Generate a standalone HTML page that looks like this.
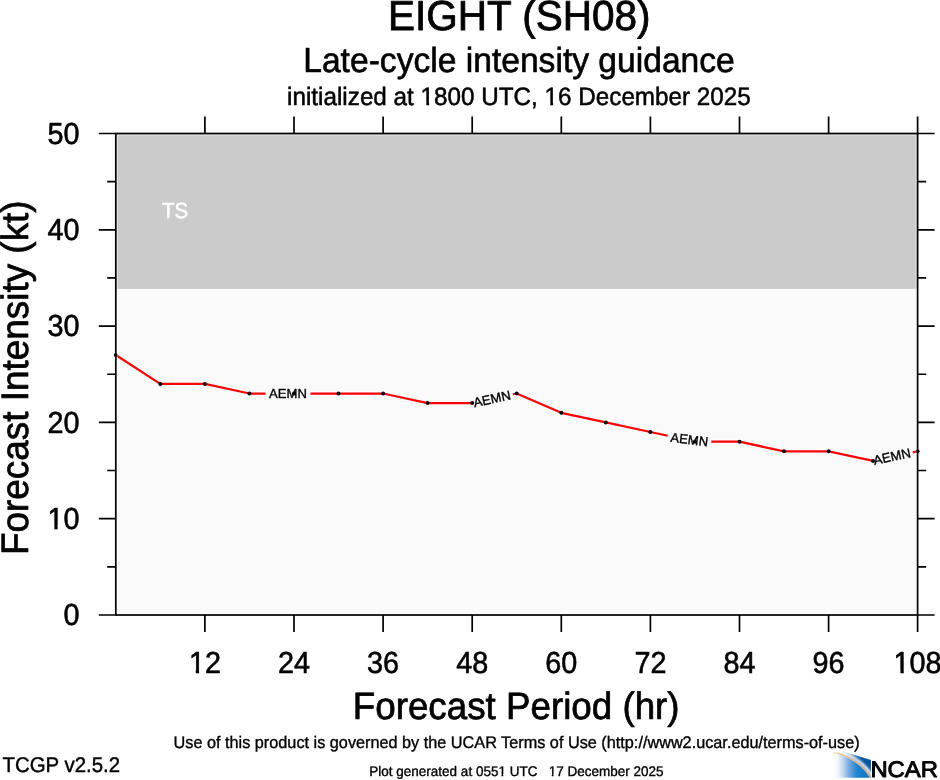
<!DOCTYPE html>
<html lang="en"><head><meta charset="utf-8"><title>EIGHT (SH08) Late-cycle intensity guidance</title>
<style>html,body{margin:0;padding:0;background:#fff;}body{width:940px;height:780px;overflow:hidden;}svg{display:block;}text{font-family:"Liberation Sans", Arial, Helvetica, sans-serif;fill:#000;stroke:#000;stroke-linejoin:round;text-rendering:geometricPrecision;}</style></head><body>
<svg width="940" height="780" viewBox="0 0 940 780">
<defs>
<linearGradient id="lg" gradientUnits="userSpaceOnUse" x1="833" y1="0" x2="870.5" y2="0"><stop offset="0" stop-color="#ffffff"/><stop offset="0.12" stop-color="#f2f7fc"/><stop offset="0.3" stop-color="#b4cfee"/><stop offset="0.45" stop-color="#6ba6df"/><stop offset="0.65" stop-color="#1c82d2"/><stop offset="1" stop-color="#0a73c2"/></linearGradient>
<linearGradient id="dg" gradientUnits="userSpaceOnUse" x1="838" y1="0" x2="871" y2="0"><stop offset="0" stop-color="#ffffff"/><stop offset="0.25" stop-color="#c9d9ec"/><stop offset="0.55" stop-color="#2f70b2"/><stop offset="0.8" stop-color="#00559f"/><stop offset="1" stop-color="#00529b"/></linearGradient>
<linearGradient id="og" gradientUnits="userSpaceOnUse" x1="832.8" y1="0" x2="870.3" y2="0"><stop offset="0" stop-color="#ffe3c4"/><stop offset="0.2" stop-color="#ffbf80"/><stop offset="1" stop-color="#ffb066"/></linearGradient>
<linearGradient id="wg" gradientUnits="userSpaceOnUse" x1="832.8" y1="0" x2="870.3" y2="0"><stop offset="0" stop-color="#ffffff" stop-opacity="0.6"/><stop offset="1" stop-color="#ffffff" stop-opacity="0.95"/></linearGradient>
<filter id="bl" x="-20%" y="-20%" width="140%" height="140%"><feGaussianBlur stdDeviation="0.95"/></filter>
</defs>
<rect width="940" height="780" fill="#ffffff"/>
<rect x="115.8" y="288.9" width="801.8" height="326.1" fill="#fafafa"/>
<rect x="115.8" y="133.5" width="801.8" height="155.4" fill="#cbcbcb"/>
<text transform="translate(175.15 218.4) scale(0.94 1)" font-size="21.8" text-anchor="middle" style="fill:#fff;stroke:#fff" stroke-width="0.5">TS</text>
<path d="M115.8 355.0 L160.3 383.9 L204.9 383.9 L249.4 393.5 L294.0 393.5 L338.5 393.5 L383.1 393.5 L427.6 403.1 L472.2 403.1 L516.7 393.5 L561.3 412.8 L605.8 422.4 L650.4 432.0 L694.9 441.7 L739.5 441.7 L784.0 451.3 L828.6 451.3 L873.1 460.9 L917.6 451.3" fill="none" stroke="#ffffff" stroke-opacity="0.85" stroke-width="5" stroke-linejoin="round"/>
<path d="M115.8 355.0 L160.3 383.9 L204.9 383.9 L249.4 393.5 L294.0 393.5 L338.5 393.5 L383.1 393.5 L427.6 403.1 L472.2 403.1 L516.7 393.5 L561.3 412.8 L605.8 422.4 L650.4 432.0 L694.9 441.7 L739.5 441.7 L784.0 451.3 L828.6 451.3 L873.1 460.9 L917.6 451.3" fill="none" stroke="#ff0000" stroke-width="2.25" stroke-linejoin="round"/>
<g transform="translate(288.0 393.5) rotate(0.0)"><rect x="-22.5" y="-7.0" width="45.0" height="14.0" fill="#fafafa"/><text x="0" y="4.8" font-size="13.1" stroke-width="0.35" text-anchor="middle">AEMN</text></g>
<g transform="translate(491.9 398.6) rotate(-12.3)"><rect x="-21.5" y="-7.0" width="43.0" height="14.0" fill="#fafafa"/><text x="0" y="4.8" font-size="13.1" stroke-width="0.35" text-anchor="middle">AEMN</text></g>
<g transform="translate(689.4 439.3) rotate(7.0)"><rect x="-22.0" y="-7.0" width="44.0" height="14.0" fill="#fafafa"/><text x="0" y="4.8" font-size="13.1" stroke-width="0.35" text-anchor="middle">AEMN</text></g>
<g transform="translate(891.9 456.2) rotate(-12.3)"><rect x="-18.8" y="-7.0" width="40.0" height="14.0" fill="#fafafa"/><text x="0" y="4.8" font-size="13.1" stroke-width="0.35" text-anchor="middle">AEMN</text></g>
<circle cx="115.8" cy="355.0" r="2" fill="#000"/>
<circle cx="160.3" cy="383.9" r="2" fill="#000"/>
<circle cx="204.9" cy="383.9" r="2" fill="#000"/>
<circle cx="249.4" cy="393.5" r="2" fill="#000"/>
<circle cx="294.0" cy="393.5" r="2" fill="#000"/>
<circle cx="338.5" cy="393.5" r="2" fill="#000"/>
<circle cx="383.1" cy="393.5" r="2" fill="#000"/>
<circle cx="427.6" cy="403.1" r="2" fill="#000"/>
<circle cx="472.2" cy="403.1" r="2" fill="#000"/>
<circle cx="516.7" cy="393.5" r="2" fill="#000"/>
<circle cx="561.3" cy="412.8" r="2" fill="#000"/>
<circle cx="605.8" cy="422.4" r="2" fill="#000"/>
<circle cx="650.4" cy="432.0" r="2" fill="#000"/>
<circle cx="694.9" cy="441.7" r="2" fill="#000"/>
<circle cx="739.5" cy="441.7" r="2" fill="#000"/>
<circle cx="784.0" cy="451.3" r="2" fill="#000"/>
<circle cx="828.6" cy="451.3" r="2" fill="#000"/>
<circle cx="873.1" cy="460.9" r="2" fill="#000"/>
<circle cx="917.6" cy="451.3" r="2" fill="#000"/>
<rect x="117.3" y="135.0" width="798.8" height="478.5" fill="none" stroke="#ffffff" stroke-opacity="0.4" stroke-width="1.4"/>
<g stroke="#000" stroke-width="1.7" fill="none" stroke-linecap="butt">
<rect x="115.8" y="133.5" width="801.8" height="481.5"/>
<path d="M204.9 133.5V116.5 M204.9 615.0V632.0"/>
<path d="M294.0 133.5V116.5 M294.0 615.0V632.0"/>
<path d="M383.1 133.5V116.5 M383.1 615.0V632.0"/>
<path d="M472.2 133.5V116.5 M472.2 615.0V632.0"/>
<path d="M561.3 133.5V116.5 M561.3 615.0V632.0"/>
<path d="M650.4 133.5V116.5 M650.4 615.0V632.0"/>
<path d="M739.5 133.5V116.5 M739.5 615.0V632.0"/>
<path d="M828.6 133.5V116.5 M828.6 615.0V632.0"/>
<path d="M917.6 133.5V116.5 M917.6 615.0V632.0"/>
<path d="M115.8 615.0H98.8 M917.6 615.0H934.6"/>
<path stroke-width="1.6" d="M115.8 566.9H107.2 M917.6 566.9H926.2"/>
<path d="M115.8 518.7H98.8 M917.6 518.7H934.6"/>
<path stroke-width="1.6" d="M115.8 470.5H107.2 M917.6 470.5H926.2"/>
<path d="M115.8 422.4H98.8 M917.6 422.4H934.6"/>
<path stroke-width="1.6" d="M115.8 374.2H107.2 M917.6 374.2H926.2"/>
<path d="M115.8 326.1H98.8 M917.6 326.1H934.6"/>
<path stroke-width="1.6" d="M115.8 277.9H107.2 M917.6 277.9H926.2"/>
<path d="M115.8 229.8H98.8 M917.6 229.8H934.6"/>
<path stroke-width="1.6" d="M115.8 181.6H107.2 M917.6 181.6H926.2"/>
<path d="M115.8 133.5H98.8 M917.6 133.5H934.6"/>
</g>
<g font-size="30.4" stroke-width="0.6">
<text transform="translate(79.5 625.2) scale(0.947 1)" text-anchor="end">0</text>
<text transform="translate(79.5 528.9) scale(0.947 1)" text-anchor="end">10</text><g transform="translate(79.5 528.9) scale(0.947 1)" fill="#ffffff"><rect x="-32.89" y="-3.33" width="6.29" height="5.33"/><rect x="-23.09" y="-3.33" width="5.99" height="5.33"/></g>
<text transform="translate(79.5 432.6) scale(0.947 1)" text-anchor="end">20</text>
<text transform="translate(79.5 336.3) scale(0.947 1)" text-anchor="end">30</text>
<text transform="translate(79.5 240.0) scale(0.947 1)" text-anchor="end">40</text>
<text transform="translate(79.5 143.7) scale(0.947 1)" text-anchor="end">50</text>
<text transform="translate(204.9 673.2) scale(0.947 1)" text-anchor="middle">12</text><g transform="translate(204.9 673.2) scale(0.947 1)" fill="#ffffff"><rect x="-15.99" y="-3.33" width="6.29" height="5.33"/><rect x="-6.18" y="-3.33" width="5.99" height="5.33"/></g>
<text transform="translate(294.0 673.2) scale(0.947 1)" text-anchor="middle">24</text>
<text transform="translate(383.1 673.2) scale(0.947 1)" text-anchor="middle">36</text>
<text transform="translate(472.2 673.2) scale(0.947 1)" text-anchor="middle">48</text>
<text transform="translate(561.3 673.2) scale(0.947 1)" text-anchor="middle">60</text>
<text transform="translate(650.4 673.2) scale(0.947 1)" text-anchor="middle">72</text>
<text transform="translate(739.5 673.2) scale(0.947 1)" text-anchor="middle">84</text>
<text transform="translate(828.6 673.2) scale(0.947 1)" text-anchor="middle">96</text>
<text transform="translate(917.6 673.2) scale(0.947 1)" text-anchor="middle">108</text><g transform="translate(917.6 673.2) scale(0.947 1)" fill="#ffffff"><rect x="-24.44" y="-3.33" width="6.29" height="5.33"/><rect x="-14.63" y="-3.33" width="5.99" height="5.33"/></g>
</g>
<text transform="translate(519.25 29.6) scale(1 1.035)" font-size="40.5" stroke-width="0.8" text-anchor="middle">EIGHT (SH08)</text>
<text transform="translate(519.0 72.0) scale(1 1.035)" font-size="33.62" stroke-width="0.6" text-anchor="middle">Late-cycle intensity guidance</text>
<text transform="translate(518.95 104.7) scale(1 1.035)" font-size="24.25" stroke-width="0.5" text-anchor="middle">initialized at 1800 UTC, 16 December 2025</text><g transform="translate(518.95 104.7) scale(1 1.035)" fill="#ffffff"><rect x="-97.70" y="-2.81" width="5.00" height="4.76"/><rect x="-89.82" y="-2.81" width="4.76" height="4.76"/><rect x="26.30" y="-2.81" width="5.00" height="4.76"/><rect x="34.18" y="-2.81" width="4.76" height="4.76"/></g>
<text transform="translate(516.2 719.2) scale(1 1.035)" font-size="36.76" stroke-width="0.7" text-anchor="middle">Forecast Period (hr)</text>
<text transform="translate(28.35 377.7) rotate(-90) scale(1 1.035)" font-size="36.9" stroke-width="0.7" text-anchor="middle">Forecast Intensity (kt)</text>
<text transform="translate(2.4 772.1) scale(1 1.035)" font-size="20.45" stroke-width="0.4" text-anchor="start">TCGP v2.5.2</text>
<text transform="translate(516.6 748.3) scale(1 1.035)" font-size="16.26" stroke-width="0.35" text-anchor="middle">Use of this product is governed by the UCAR Terms of Use (http://www2.ucar.edu/terms-of-use)</text>
<text transform="translate(516.4 776.0) scale(1 1.035)" font-size="13.5" stroke-width="0.35" text-anchor="middle" xml:space="preserve" style="white-space:pre">Plot generated at 0551 UTC   17 December 2025</text><g transform="translate(516.4 776.0) scale(1 1.035)" fill="#ffffff"><rect x="-17.68" y="-1.91" width="2.77" height="3.78"/><rect x="-13.13" y="-1.91" width="2.63" height="3.78"/><rect x="32.57" y="-1.91" width="2.77" height="3.78"/><rect x="37.12" y="-1.91" width="2.63" height="3.78"/></g>
<g>
<path d="M832.8 752.65 C846.85 753.55 864.25 765.6 870.3 777.5 L870.3 777.7 L832.8 777.7 Z" fill="url(#lg)"/>
<path d="M838.5 750.0 L870.9 760.1 L870.9 777.5 L870.3 777.5 C864.25 765.6 846.85 753.55 832.8 752.65 Z" fill="url(#dg)"/>
<path d="M834 751.0 C848 751.9 865.6 764.0 871.5 775.8" fill="none" stroke="url(#wg)" stroke-width="3.2" filter="url(#bl)"/>
<path d="M832.8 752.65 C846.85 753.55 864.25 765.6 870.3 777.5" fill="none" stroke="url(#og)" stroke-width="1.2"/>
<text x="870.4" y="777.3" font-size="22.6" stroke-width="0.9" textLength="67.6" lengthAdjust="spacingAndGlyphs">NCAR</text>
</g>
</svg></body></html>
